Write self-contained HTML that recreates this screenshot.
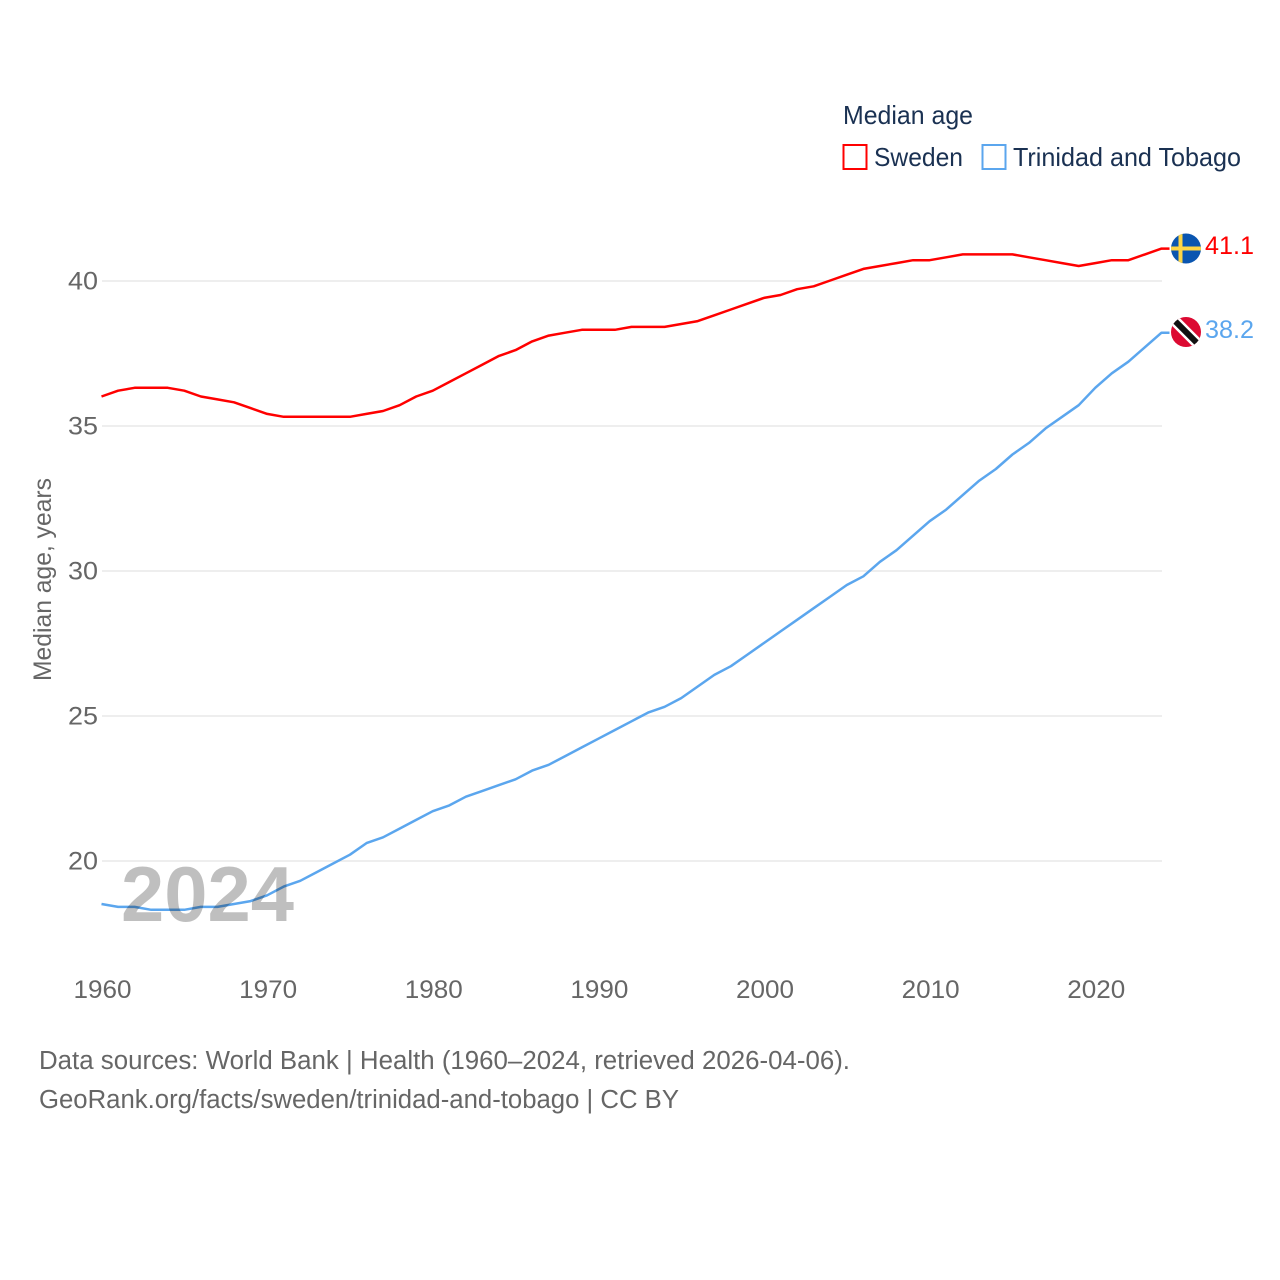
<!DOCTYPE html>
<html lang="en">
<head>
<meta charset="utf-8">
<title>Median age: Sweden and Trinidad and Tobago</title>
<style>
html,body{margin:0;padding:0;background:#fff;width:1280px;height:1280px;overflow:hidden}
svg{display:block}
text{font-family:"Liberation Sans",sans-serif}
</style>
</head>
<body>
<svg id="chart" xmlns="http://www.w3.org/2000/svg" width="1280" height="1280" viewBox="0 0 1280 1280">
  <rect width="1280" height="1280" fill="#fff"/>
  <g id="grid"></g>
  <g id="yticks"></g>
  <g id="xticks"></g>
  <text transform="translate(51,579.5) rotate(-90)" text-anchor="middle" font-size="25" fill="#666" textLength="203" lengthAdjust="spacingAndGlyphs">Median age, years</text>
  <g id="series"></g>
  <text x="121" y="921" font-size="78" font-weight="700" fill="#000" fill-opacity="0.25" textLength="173" lengthAdjust="spacingAndGlyphs">2024</text>

  <g>
    <text x="843" y="124" font-size="26" fill="#1a3152" textLength="130" lengthAdjust="spacingAndGlyphs">Median age</text>
    <g>
      <rect x="843.500" y="145" width="23" height="24" fill="#fff" stroke="#ff0000" stroke-width="2"/>
      <text x="874" y="166" font-size="26" fill="#1a3152" textLength="89" lengthAdjust="spacingAndGlyphs">Sweden</text>
    </g>
    <g>
      <rect x="982.500" y="145" width="23" height="24" fill="#fff" stroke="#5ba6ee" stroke-width="2"/>
      <text x="1013" y="166" font-size="26" fill="#1a3152" textLength="228" lengthAdjust="spacingAndGlyphs">Trinidad and Tobago</text>
    </g>
  </g>

  <defs>
    <clipPath id="flag-clip-se"><circle cx="1186" cy="248.500" r="15"/></clipPath>
    <clipPath id="flag-clip-tt"><circle cx="1186" cy="332" r="15"/></clipPath>
  </defs>
  <g clip-path="url(#flag-clip-se)">
    <rect x="1171" y="233" width="30" height="31" fill="#0a55b0"/>
    <rect x="1178.500" y="233" width="4" height="31" fill="#fdd545"/>
    <rect x="1171" y="246.500" width="30" height="4" fill="#fdd545"/>
  </g>
  <g clip-path="url(#flag-clip-tt)">
    <rect x="1171" y="317" width="30" height="30" fill="#dc0a32"/>
    <line x1="1172" y1="318" x2="1200" y2="346" stroke="#fff" stroke-width="11"/>
    <line x1="1172" y1="318" x2="1200" y2="346" stroke="#111" stroke-width="6"/>
  </g>
  <text x="1205" y="254" font-size="25" fill="#ff0000" textLength="49" lengthAdjust="spacingAndGlyphs">41.1</text>
  <text x="1205" y="338" font-size="25" fill="#5ba6ee" textLength="49" lengthAdjust="spacingAndGlyphs">38.2</text>

  <text x="39" y="1069" font-size="25.500" fill="#666" textLength="811" lengthAdjust="spacingAndGlyphs">Data sources: World Bank | Health (1960–2024, retrieved 2026-04-06).</text>
  <text x="39" y="1108" font-size="25.500" fill="#666" textLength="640" lengthAdjust="spacingAndGlyphs">GeoRank.org/facts/sweden/trinidad-and-tobago | CC BY</text>
</svg>
<script>
const years = [1960,1961,1962,1963,1964,1965,1966,1967,1968,1969,1970,1971,1972,1973,1974,1975,1976,1977,1978,1979,1980,1981,1982,1983,1984,1985,1986,1987,1988,1989,1990,1991,1992,1993,1994,1995,1996,1997,1998,1999,2000,2001,2002,2003,2004,2005,2006,2007,2008,2009,2010,2011,2012,2013,2014,2015,2016,2017,2018,2019,2020,2021,2022,2023,2024];
const swedenValues = [36.0,36.2,36.3,36.3,36.3,36.2,36.0,35.9,35.8,35.6,35.4,35.3,35.3,35.3,35.3,35.3,35.4,35.5,35.7,36.0,36.2,36.5,36.8,37.1,37.4,37.6,37.9,38.1,38.2,38.3,38.3,38.3,38.4,38.4,38.4,38.5,38.6,38.8,39.0,39.2,39.4,39.5,39.7,39.8,40.0,40.2,40.4,40.5,40.6,40.7,40.7,40.8,40.9,40.9,40.9,40.9,40.8,40.7,40.6,40.5,40.6,40.7,40.7,40.9,41.1];
const trinidadValues = [18.5,18.4,18.4,18.3,18.3,18.3,18.4,18.4,18.5,18.6,18.8,19.1,19.3,19.6,19.9,20.2,20.6,20.8,21.1,21.4,21.7,21.9,22.2,22.4,22.6,22.8,23.1,23.3,23.6,23.9,24.2,24.5,24.8,25.1,25.3,25.6,26.0,26.4,26.7,27.1,27.5,27.9,28.3,28.7,29.1,29.5,29.8,30.3,30.7,31.2,31.7,32.1,32.6,33.1,33.5,34.0,34.4,34.9,35.3,35.7,36.3,36.8,37.2,37.7,38.2];
const yTickLabels = [40,35,30,25,20];
const xTickLabels = [1960,1970,1980,1990,2000,2010,2020];

const NS = 'http://www.w3.org/2000/svg';
const xScale = function (year) { return 101.5 + (year - 1960) * (1060 / 64); };
const yScale = function (value) { return 280.5 + (40 - value) * 29; };

function make(tag, parent, attrs) {
  const el = document.createElementNS(NS, tag);
  Object.keys(attrs).forEach(function (k) { el.setAttribute(k, attrs[k]); });
  parent.appendChild(el);
  return el;
}

const gridGroup = document.getElementById('grid');
const yGroup = document.getElementById('yticks');
const xGroup = document.getElementById('xticks');
const seriesGroup = document.getElementById('series');

yTickLabels.forEach(function (v) {
  const line = make('line', gridGroup, { x1: 102, x2: 1162, y1: yScale(v) + 0.5, y2: yScale(v) + 0.5, stroke: '#eeeeee', 'stroke-width': 2 });
  
  
  const label = make('text', yGroup, { x: 98, y: yScale(v) + 9, 'text-anchor': 'end', 'font-size': 25, fill: '#666', textLength: 30, lengthAdjust: 'spacingAndGlyphs' });
  
  
  label.textContent = v;
});

xTickLabels.forEach(function (y) {
  const label = make('text', xGroup, { x: xScale(y) + 1, y: 998, 'text-anchor': 'middle', 'font-size': 25, fill: '#666', textLength: 58, lengthAdjust: 'spacingAndGlyphs' });
  
  
  label.textContent = y;
});

function drawLine(values, color) {
  const pts = values.map(function (v, i) { return xScale(years[i]).toFixed(2) + ',' + yScale(v).toFixed(2); });
  const last = values[values.length - 1];
  pts.push((xScale(years[years.length - 1]) + 8).toFixed(2) + ',' + yScale(last).toFixed(2));
  return make('polyline', seriesGroup, { points: pts.join(' '), fill: 'none', stroke: color, 'stroke-width': 2.5, 'stroke-linejoin': 'round' });
}

const swedenLine = drawLine(swedenValues, '#ff0000');


const trinidadLine = drawLine(trinidadValues, '#5ba6ee');


</script>
</body>
</html>
